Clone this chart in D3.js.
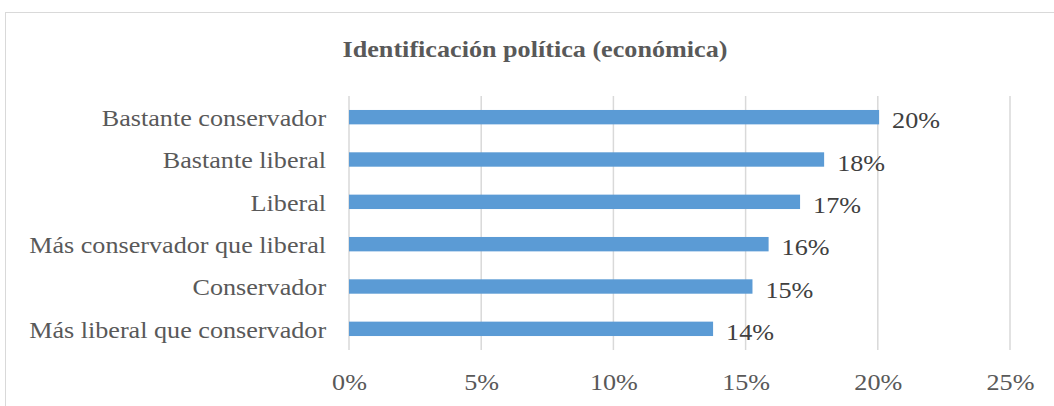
<!DOCTYPE html>
<html>
<head>
<meta charset="utf-8">
<script src="https://cdn.jsdelivr.net/npm/d3@7"></script>
<style>
  body { margin: 0; background: #fff; }
  text { font-family: "Liberation Serif", "Times New Roman", serif; }
</style>
</head>
<body>
<div id="chart"></div>
<script>
// data, top to bottom
let categories = ["Bastante conservador", "Bastante liberal", "Liberal",
    "Más conservador que liberal", "Conservador", "Más liberal que conservador"];
let values = [20.05, 17.97, 17.06, 15.87, 15.26, 13.77];
let valueLabels = ["20%", "18%", "17%", "16%", "15%", "14%"];
let tickValues = [0, 5, 10, 15, 20, 25];
let title = "Identificación política (económica)";

let W = 1054, H = 406;
let margin = {top: 96, right: 44, bottom: 56, left: 349};
let stretch = 1.09;   // the original text is a bit wider than plain Times

let svg = d3.select("#chart").append("svg")
    .attr("width", W)
    .attr("height", H);

// chart border
svg.append("rect")
    .attr("x", 5.5).attr("y", 12.5)
    .attr("width", W + 20).attr("height", H + 20)
    .attr("fill", "none")
    .attr("stroke", "#d9d9d9")
    .attr("stroke-width", 1);

let x = d3.scaleLinear()
    .domain([0, 25])
    .range([margin.left, W - margin.right]);

let y = d3.scaleBand()
    .domain(categories)
    .range([margin.top, H - margin.bottom])
    .paddingInner(0.66)
    .paddingOuter(0.33);

// gridlines
svg.append("g")
    .selectAll("line")
    .data(tickValues)
    .enter()
    .append("line")
    .attr("x1", d => x(d)).attr("x2", d => x(d))
    .attr("y1", margin.top).attr("y2", H - margin.bottom)
    .attr("stroke", "#d9d9d9")
    .attr("stroke-width", 1.5);

// bars
svg.append("g")
    .selectAll("rect")
    .data(values)
    .enter()
    .append("rect")
    .attr("x", x(0))
    .attr("y", (d, i) => y(categories[i]))
    .attr("width", d => x(d) - x(0))
    .attr("height", y.bandwidth())
    .attr("fill", "#5b9bd5");

// data labels
svg.append("g")
    .selectAll("text")
    .data(values)
    .enter()
    .append("text")
    .attr("transform", (d, i) => `translate(${x(d) + 13},${y(categories[i]) + y.bandwidth() / 2 + 11}) scale(${stretch},1)`)
    .attr("font-size", 24)
    .attr("fill", "#404040")
    .text((d, i) => valueLabels[i]);

// category labels
let yAxis = d3.axisLeft(y).tickSize(0).tickPadding(21);
let yg = svg.append("g")
    .attr("transform", `translate(${margin.left},0)`)
    .call(yAxis);
yg.select(".domain").remove();
yg.selectAll("text")
    .attr("font-size", 24)
    .attr("fill", "#595959")
    .attr("dy", "0.37em")
    .attr("transform", `scale(${stretch},1)`);

// x axis tick labels
let xAxis = d3.axisBottom(x).tickValues(tickValues).tickSize(0).tickPadding(23)
    .tickFormat(d => d + "%");
let xg = svg.append("g")
    .attr("transform", `translate(0,${H - margin.bottom})`)
    .call(xAxis);
xg.select(".domain").remove();
xg.selectAll("text")
    .attr("font-size", 24)
    .attr("fill", "#595959")
    .attr("transform", `scale(${stretch},1)`);

// title
svg.append("text")
    .attr("transform", `translate(535,57) scale(${stretch},1)`)
    .attr("text-anchor", "middle")
    .attr("font-size", 24)
    .attr("font-weight", "bold")
    .attr("fill", "#595959")
    .text(title);
</script>
</body>
</html>
